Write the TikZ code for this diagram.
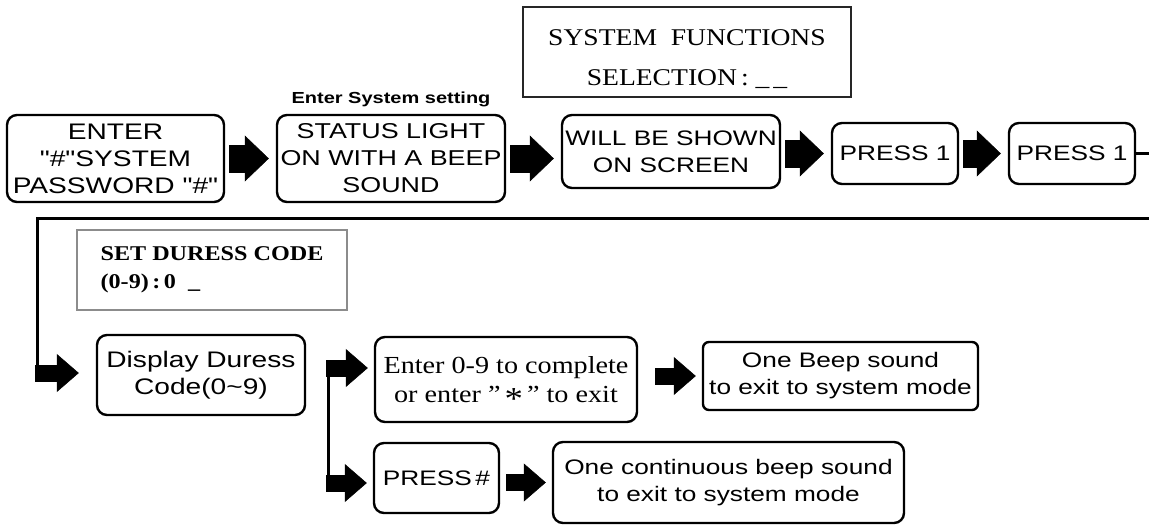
\documentclass[tikz,border=0pt]{standalone}
\usepackage{fontspec}
\setmainfont{Liberation Serif}[FakeStretch=1.15]
\newfontfamily\boxfont{Liberation Sans}[FakeStretch=1.25]
\usepackage{tikz}
\usetikzlibrary{calc,arrows.meta,positioning}

\begin{document}
\begin{tikzpicture}[x=1pt,y=-1pt]
    \tikzstyle{box}=[draw,line width=2.4pt,rounded corners=10pt,inner sep=0pt,align=center,font=\boxfont\fontsize{21}{27}\selectfont]
    \tikzstyle{bigbox}=[box,font=\boxfont\fontsize{22.5}{27}\selectfont]
    \tikzstyle{note}=[inner sep=0pt,font=\boxfont\bfseries\fontsize{16}{18}\selectfont]
    \tikzstyle{screen}=[draw=black!85,line width=1.8pt,inner sep=0pt,align=center,font=\fontsize{24}{40}\selectfont]
    \tikzstyle{lcd}=[draw=black!45,line width=1.5pt,inner sep=0pt,align=left,font=\bfseries\fontsize{21}{28}\selectfont]
    \tikzstyle{wire}=[line width=3pt]
    \tikzstyle{bigarrow}=[line width=28pt,-{Triangle[length=24pt,width=46pt,line width=0.5pt]},shorten <=4pt,shorten >=7pt]
    \tikzstyle{smallarrow}=[line width=17pt,-{Triangle[length=22pt,width=38pt,line width=0.5pt]},shorten <=6pt,shorten >=6pt]
    \useasboundingbox (0,0) rectangle (1149,525);
    \node[bigbox,minimum width=217pt,minimum height=87pt] (enter) at (115.5,158.5) {ENTER\\"\#"SYSTEM\\PASSWORD "\#"};
    \node[box,font=\boxfont\fontsize{21.5}{27}\selectfont,minimum width=228pt,minimum height=87pt] (status) at (391,158.5) {STATUS LIGHT\\ON WITH A BEEP\\SOUND};
    \node[note,above=7pt of status] (setting) {Enter System setting};
    \node[box,minimum width=218pt,minimum height=73pt] (shown) at (671,151.5) {WILL BE SHOWN\\ON SCREEN};
    \node[box,minimum width=126pt,minimum height=61pt] (pressa) at (895,153.5) {PRESS 1};
    \node[box,minimum width=126pt,minimum height=61pt] (pressb) at (1072,153.5) {PRESS 1};
    \node[screen,minimum width=328pt,minimum height=90pt] (sysfun) at (687,52) {\rule{0pt}{30pt}SYSTEM\ \ FUNCTIONS\\SELECTION\,:\ \_\,\_};
    \node[lcd,minimum width=270pt,minimum height=80pt] (duress) at (212,270) {SET DURESS CODE\\(0-9)\,:\,0\ \ \_};
    \node[bigbox,minimum width=208pt,minimum height=80pt] (display) at (201,375) {Display Duress\\Code(0\textasciitilde9)};
    \node[box,font=\fontsize{24.5}{29.5}\selectfont,minimum width=262pt,minimum height=85pt] (digits) at (506,379.5) {Enter 0-9 to complete\\or enter "\,\raisebox{-0.3em}[0pt][0pt]{\fontsize{32}{32}\selectfont *}\," to exit};
    \node[box,rounded corners=6pt,minimum width=275pt,minimum height=68pt] (beep) at (840.5,376) {One Beep sound\\to exit to system mode};
    \node[box,minimum width=125pt,minimum height=70pt] (presshash) at (436.5,478) {PRESS\,\#};
    \node[box,minimum width=351pt,minimum height=81pt] (contbeep) at (728.5,482.5) {One continuous beep sound\\to exit to system mode};
    \coordinate (exit) at (1149,153.5);
    \coordinate (back) at (1149,218);
    \coordinate (turn) at (37,218);
    \coordinate (drop) at (37,373);
    \coordinate (forktop) at (328,368);
    \coordinate (forkbot) at (328,483);
    \draw[bigarrow] (enter) -- (status);
    \draw[bigarrow] (status.east) -- (status.east -| shown.west);
    \draw[bigarrow] (pressa.west -| shown.east) -- (pressa.west);
    \draw[bigarrow] (pressa) -- (pressb);
    \draw[wire] (pressb) -- (exit);
    \draw[wire] (back) -- (turn) -- (drop);
    \draw[smallarrow,shorten <=-2pt,shorten >=17pt] (drop) -- (drop -| display.west);
    \draw[wire] (forktop) -- (forkbot);
    \draw[smallarrow,shorten <=-2pt] (forktop) -- (forktop -| digits.west);
    \draw[smallarrow,shorten <=-2pt] (forkbot) -- (forkbot -| presshash.west);
    \draw[smallarrow,shorten <=17pt] (beep.west -| digits.east) -- (beep.west);
    \draw[smallarrow] (contbeep.west -| presshash.east) -- (contbeep.west);
\end{tikzpicture}
\end{document}
